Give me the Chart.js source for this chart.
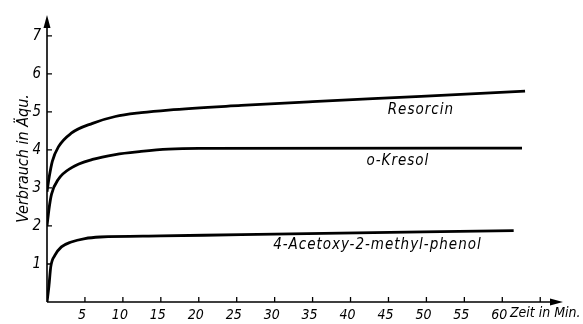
<!DOCTYPE html>
<html>
<head>
<meta charset="utf-8">
<script src="https://cdn.jsdelivr.net/npm/chart.js@4/dist/chart.umd.min.js"></script>
<style>
  html, body { margin: 0; padding: 0; background: #fff; }
  #wrap { width: 583px; height: 324px; }
</style>
</head>
<body>
<div id="wrap"><canvas id="c" width="583" height="324"></canvas></div>
<script>
// Consumption (equivalents) over time (minutes)
const resorcinT  = [0, 0.3, 0.7, 1.5, 3.2, 6, 9, 12.4, 16, 25.6, 35, 49.3, 63]
const resorcinV  = [2.9, 3.3, 3.7, 4.08, 4.44, 4.7, 4.88, 4.98, 5.05, 5.17, 5.27, 5.41, 5.55]

const kresolT    = [0, 0.3, 0.6, 1.5, 3.2, 6, 9, 12.4, 16, 20, 62.6]
const kresolV    = [2.0, 2.5, 2.84, 3.23, 3.53, 3.75, 3.88, 3.96, 4.02, 4.04, 4.05]

const acetoxyT   = [0, 0.25, 0.5, 1.05, 1.9, 3.2, 5, 7, 15, 25.6, 61.5]
const acetoxyV   = [0, 0.41, 0.93, 1.23, 1.45, 1.58, 1.67, 1.71, 1.74, 1.77, 1.88]

const xTicks     = [5, 10, 15, 20, 25, 30, 35, 40, 45, 50, 55, 60, 65]
const xLabeled   = [5, 10, 15, 20, 25, 30, 35, 40, 45, 50, 55, 60]
const yTicks     = [1, 2, 3, 4, 5, 6, 7]

// curve captions: [text, minute, value]
const captions = [
  ["Resorcin", 44.9, 5.05],
  ["o-Kresol", 42.1, 3.70],
  ["4-Acetoxy-2-methyl-phenol", 29.8, 1.49],
]

const FONT = "'Liberation Sans Narrow', 'DejaVu Sans Condensed', sans-serif"

const pts = (t, v) => t.map((x, i) => ({ x, y: v[i] }))

const line = (label, data) => ({
  label,
  data,
  borderColor: "#000",
  borderWidth: 2.8,
  pointRadius: 0,
  fill: false,
  cubicInterpolationMode: "monotone",
})

// axes with arrowheads, inward tick marks, curve captions
const drawing = {
  id: "drawing",
  afterDraw(chart) {
    const { ctx, chartArea: a, scales: { x, y } } = chart
    ctx.save()
    ctx.strokeStyle = "#000"
    ctx.fillStyle = "#000"
    ctx.lineWidth = 1.6

    ctx.beginPath()
    ctx.moveTo(a.left, a.bottom)
    ctx.lineTo(a.left, a.top + 6)
    ctx.moveTo(a.left, a.bottom)
    ctx.lineTo(a.right - 6, a.bottom)
    ctx.stroke()

    // arrowheads
    ctx.beginPath()
    ctx.moveTo(a.left, a.top)
    ctx.lineTo(a.left - 3.5, a.top + 13)
    ctx.lineTo(a.left + 3.5, a.top + 13)
    ctx.closePath()
    ctx.fill()
    ctx.beginPath()
    ctx.moveTo(a.right, a.bottom)
    ctx.lineTo(a.right - 13, a.bottom - 3.5)
    ctx.lineTo(a.right - 13, a.bottom + 3.5)
    ctx.closePath()
    ctx.fill()

    ctx.lineWidth = 1.3
    ctx.beginPath()
    yTicks.forEach(v => {
      const py = y.getPixelForValue(v)
      ctx.moveTo(a.left, py)
      ctx.lineTo(a.left + 5, py)
    })
    xTicks.forEach(v => {
      const px = x.getPixelForValue(v)
      ctx.moveTo(px, a.bottom)
      ctx.lineTo(px, a.bottom - 5)
    })
    ctx.stroke()

    ctx.font = "italic 15px " + FONT
    ctx.textBaseline = "middle"
    ctx.textAlign = "left"
    ctx.letterSpacing = "1px"
    captions.forEach(([t, mx, vy]) => {
      ctx.fillText(t, x.getPixelForValue(mx), y.getPixelForValue(vy))
    })

    ctx.letterSpacing = "0px"
    ctx.font = "italic 14px " + FONT
    ctx.fillText("Zeit in Min.", x.getPixelForValue(61.0), a.bottom + 11)
    ctx.restore()
  }
}

new Chart(document.getElementById("c"), {
  type: "line",
  data: {
    datasets: [
      line("Resorcin", pts(resorcinT, resorcinV)),
      line("o-Kresol", pts(kresolT, kresolV)),
      line("4-Acetoxy-2-methyl-phenol", pts(acetoxyT, acetoxyV)),
    ]
  },
  options: {
    responsive: false,
    animation: false,
    devicePixelRatio: 1,
    layout: { padding: { top: 12, right: 20, left: 0, bottom: 0 } },
    plugins: { legend: { display: false }, tooltip: { enabled: false } },
    scales: {
      x: {
        type: "linear",
        min: 0,
        max: 68,
        grid: { display: false, drawTicks: false },
        border: { display: false },
        afterFit: s => { s.height = 22 },
        afterBuildTicks: s => { s.ticks = xTicks.map(v => ({ value: v })) },
        ticks: {
          autoSkip: false,
          maxRotation: 0,
          padding: 5,
          labelOffset: -3,
          color: "#000",
          font: { family: FONT, size: 14, style: "italic" },
          callback: v => xLabeled.includes(v) ? String(v) : "",
        }
      },
      y: {
        type: "linear",
        min: 0,
        max: 7.55,
        grid: { display: false, drawTicks: false },
        border: { display: false },
        afterFit: s => { s.width = 47 },
        afterBuildTicks: s => { s.ticks = yTicks.map(v => ({ value: v })) },
        ticks: {
          padding: 6,
          color: "#000",
          font: { family: FONT, size: 15, style: "italic" },
        },
        title: {
          display: true,
          text: "Verbrauch in Äqu.",
          color: "#000",
          padding: { top: 14 },
          font: { family: FONT, size: 16, style: "italic" },
        }
      }
    }
  },
  plugins: [drawing]
})
</script>
</body>
</html>
